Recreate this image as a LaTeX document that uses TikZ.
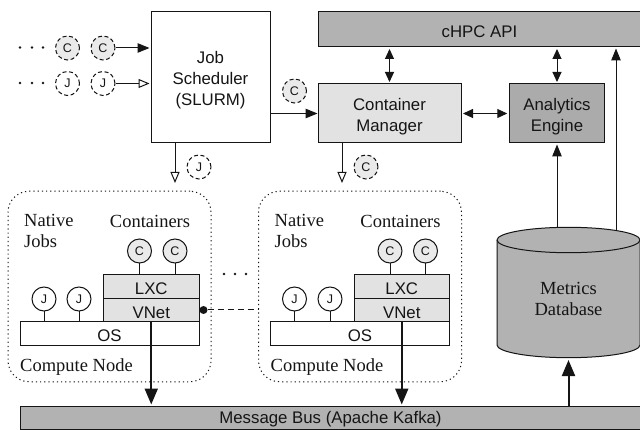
\documentclass[tikz,border=0pt]{standalone}
\usepackage{fontspec}
\setmainfont{Liberation Sans}
\newfontfamily\serifx{Liberation Serif}
\usetikzlibrary{arrows.meta,shapes.geometric}
\definecolor{gL}{HTML}{E2E2E2}
\definecolor{gC}{HTML}{EAEAEA}
\definecolor{gD}{HTML}{B2B2B2}
\definecolor{gA}{HTML}{ABABAB}
\definecolor{ink}{HTML}{151515}
\tikzset{
 boxx/.style={draw=ink,line width=1pt,inner sep=0pt,align=center,text=ink,font=\fontsize{16.8}{21}\selectfont},
 circ/.style={circle,draw=ink,line width=1pt,minimum size=24pt,inner sep=0pt,text=ink,font=\fontsize{12.5}{14}\selectfont},
 job/.style={circ,fill=white},
 ctr/.style={circ,fill=gC},
 djob/.style={job,dash pattern=on 4pt off 2.6pt},
 dctr/.style={ctr,dash pattern=on 4pt off 2.6pt},
 cnode/.style={draw=ink,rounded corners=21pt,line width=1pt,dash pattern=on 1.2pt off 3pt,minimum width=203pt,minimum height=190.5pt,inner sep=0pt},
 lab/.style={inner sep=0pt,text=ink,font=\serifx\fontsize{18.5}{21}\selectfont,align=left},
 conn/.style={draw=ink,line width=1pt},
 fa/.style={conn,-{Triangle[length=12pt,width=9.5pt]}},
 oa/.style={conn,-{Triangle[open,length=11pt,width=9pt,fill=white]}},
 da/.style={conn,{Triangle[length=10pt,width=9pt]}-{Triangle[length=10pt,width=9pt]}},
 ta/.style={draw=ink,line width=2pt,-{Triangle[length=16pt,width=13pt]}},
 stem/.style={conn},
 dotx/.style={circle,fill=ink,inner sep=0pt,minimum size=2.6pt},
 joint/.style={circle,fill=ink,inner sep=0pt,minimum size=8pt},
 dbshape/.style={draw=ink,line width=1pt,fill=gD},
}
\newcommand{\rbox}[7]{\node[boxx,fill=#6,minimum width=#4pt,minimum height=#5pt] (#1) at (#2,#3) {#7};}
\newcommand{\dnA}{\rule{0pt}{16pt}}
\newcommand{\dnB}{\rule{0pt}{18pt}}
\begin{document}
\begin{tikzpicture}[x=1pt,y=-1pt]
\useasboundingbox (0,0) rectangle (640,430);
% main boxes
\rbox{sched}{210.5}{77.5}{119}{131}{white}{\dnB Job\\Scheduler\\(SLURM)}
\rbox{api}{479.5}{29.5}{323}{35}{gD}{\dnA cHPC API}
\rbox{cm}{389.5}{113.5}{143}{59}{gL}{\dnB Container\\Manager}
\rbox{ae}{557}{113.5}{95.5}{59}{gA}{\dnB Analytics\\Engine}
\rbox{bus}{330.5}{417.5}{621}{23}{gD}{\dnA Message Bus (Apache Kafka)}
% database
\path[dbshape] (497,240) -- (497,345) arc[start angle=180,end angle=0,x radius=71.5,y radius=12.7] -- (640,240) arc[start angle=0,end angle=-180,x radius=71.5,y radius=12.7] -- cycle;
\path[draw=ink,line width=1pt] (497,240) arc[start angle=180,end angle=0,x radius=71.5,y radius=12.7];
\node[lab,align=center,minimum width=143pt,minimum height=131pt] (db) at (568.5,292.3) {\rule{0pt}{26pt}Metrics\\Database};
% compute nodes
\node[cnode] (cn1) at (109.5,286.5) {};
\node[cnode] (cn2) at (360,286.5) {};
% compute node 1
\rbox{os1}{109.5}{334}{179}{24}{white}{\dnA OS}
\rbox{lxc1}{151.25}{286.5}{95.5}{24}{gL}{\dnA LXC}
\rbox{vn1}{151.25}{310.25}{95.5}{23.5}{gL}{\dnA VNet}
\node[job] (j1a) at (44,299) {J};
\node[job] (j1b) at (79,299) {J};
\node[ctr] (c1a) at (139.5,251) {C};
\node[ctr] (c1b) at (175,251) {C};
\node[lab,anchor=north west] (nj1) at (24,214) {Native\\Jobs};
\node[lab] (ct1) at (150,221) {Containers};
\node[lab,anchor=west] (cl1) at (20,367) {Compute Node};
% compute node 2
\rbox{os2}{360}{334}{179}{24}{white}{\dnA OS}
\rbox{lxc2}{401.75}{286.5}{95.5}{24}{gL}{\dnA LXC}
\rbox{vn2}{401.75}{310.25}{95.5}{23.5}{gL}{\dnA VNet}
\node[job] (j2a) at (294.5,299) {J};
\node[job] (j2b) at (330,299) {J};
\node[ctr] (c2a) at (390,251) {C};
\node[ctr] (c2b) at (425.5,251) {C};
\node[lab,anchor=north west] (nj2) at (274.5,214) {Native\\Jobs};
\node[lab] (ct2) at (400.5,221) {Containers};
\node[lab,anchor=west] (cl2) at (270.5,367) {Compute Node};
% stems
\foreach \a/\b in {j1a/os1,j1b/os1,j2a/os2,j2b/os2} \draw[stem] (\a.south) -- (\a.south |- \b.north);
\foreach \a/\b in {c1a/lxc1,c1b/lxc1,c2a/lxc2,c2b/lxc2} \draw[stem] (\a.south) -- (\a.south |- \b.north);
% queue
\node[dctr] (qc1) at (67.5,48) {C};
\node[dctr] (qc2) at (103,48) {C};
\node[djob] (qj1) at (67.5,83.5) {J};
\node[djob] (qj2) at (103,83.5) {J};
\foreach \n/\x/\y in {da1/20/47.5,da2/32/47.5,da3/43/47.5,db1/20/83,db2/32/83,db3/43/83,dc1/224/274,dc2/235/274,dc3/246/274} \node[dotx] (\n) at (\x,\y) {};
\node[dctr] (mc) at (294.5,91) {C};
\node[djob] (mj) at (199,167) {J};
\node[dctr] (mc2) at (366,167) {C};
% connectors
\draw[fa,shorten >=1pt] (qc2.east) -- (sched.west |- qc2.east);
\draw[oa,shorten >=1pt] (qj2.east) -- (sched.west |- qj2.east);
\draw[fa] (sched.east |- cm.west) -- (cm.west);
\coordinate (sd) at (175,183);
\coordinate (cd) at (342,183);
\draw[oa] (sched.south -| sd) -- (sd);
\draw[oa] (cm.south -| cd) -- (cd);
\draw[da,shorten >=1.5pt,shorten <=1.5pt] (cm.north) -- (cm.north |- api.south);
\draw[da,shorten >=1.5pt,shorten <=1.5pt] (ae.north) -- (ae.north |- api.south);
\draw[da,shorten >=1.5pt,shorten <=1.5pt] (cm.east) -- (ae.west);
\coordinate (dbl) at (557,228);
\coordinate (dbr) at (616,231);
\draw[fa,shorten >=1pt] (dbl) -- (ae.south);
\draw[fa,shorten >=1pt] (dbr) -- (dbr |- api.south);
\draw[ta,shorten >=1pt] (vn1.south) -- (vn1.south |- bus.north);
\draw[ta,shorten >=1pt] (vn2.south) -- (vn2.south |- bus.north);
\draw[ta,shorten >=2pt] (bus.north -| db.south) -- (db.south);
\node[joint] (jt) at (203.5,310) {};
\draw[conn,dash pattern=on 6pt off 4pt] (jt) -- (cn2.west |- jt);
\end{tikzpicture}
\end{document}
